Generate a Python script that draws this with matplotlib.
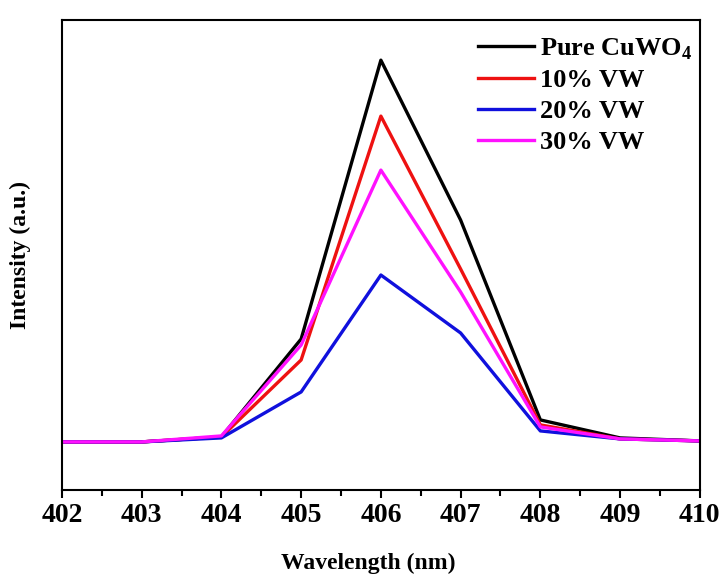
import matplotlib
matplotlib.use("Agg")
import matplotlib.pyplot as plt
from matplotlib.ticker import MultipleLocator

# datos (unidades arbitrarias)
wavelength = [402, 403, 404, 405, 406, 407, 408, 409, 410]
pure = [0, 0, 5, 103, 382, 222, 22, 4, 1]
vw10 = [0, 0, 5, 82, 326, 173, 17, 3, 1]
vw20 = [0, 0, 4, 50, 167, 109, 11, 3, 1]
vw30 = [0, 0, 6, 97, 272, 150, 15, 3, 1]

plt.rcParams['font.family'] = ['Liberation Serif', 'DejaVu Serif']
plt.rcParams['font.weight'] = 'bold'
plt.rcParams['mathtext.fontset'] = 'custom'
plt.rcParams['mathtext.rm'] = 'Liberation Serif:bold'
plt.rcParams['mathtext.bf'] = 'Liberation Serif:bold'

fig = plt.figure(figsize=(7.2, 5.77), dpi=100)
ax = fig.add_axes([0.086, 0.151, 0.886, 0.814])

lw = 2.4
ax.plot(wavelength, pure, color='black', lw=lw, label=r'Pure CuWO$_\mathregular{4}$')
ax.plot(wavelength, vw10, color='#ee1111', lw=lw, label='10% VW')
ax.plot(wavelength, vw20, color='#1010dd', lw=lw, label='20% VW')
ax.plot(wavelength, vw30, color='#ff11ff', lw=lw, label='30% VW')

ax.set_xlim(402, 410)
ax.set_ylim(-48, 422)
ax.xaxis.set_major_locator(MultipleLocator(1))
ax.xaxis.set_minor_locator(MultipleLocator(0.5))
ax.tick_params(axis='x', which='major', direction='out', length=6, width=1.5, labelsize=20)
ax.tick_params(axis='x', which='minor', direction='out', length=4, width=1.5)
ax.set_yticks([])
for s in ax.spines.values():
    s.set_linewidth(1.5)

ax.set_xlabel('Wavelength (nm)', fontsize=17, fontweight='bold')
ax.xaxis.set_label_coords(0.48, -0.135)
ax.set_ylabel('Intensity (a.u.)', fontsize=17, fontweight='bold', labelpad=22)

leg = ax.legend(loc='upper right', frameon=False, fontsize=19, handlelength=2.15,
                handletextpad=0.2, labelspacing=0.28, borderaxespad=0.2,
                bbox_to_anchor=(1.013, 1.0))

fig.savefig('out.png', dpi=100)
